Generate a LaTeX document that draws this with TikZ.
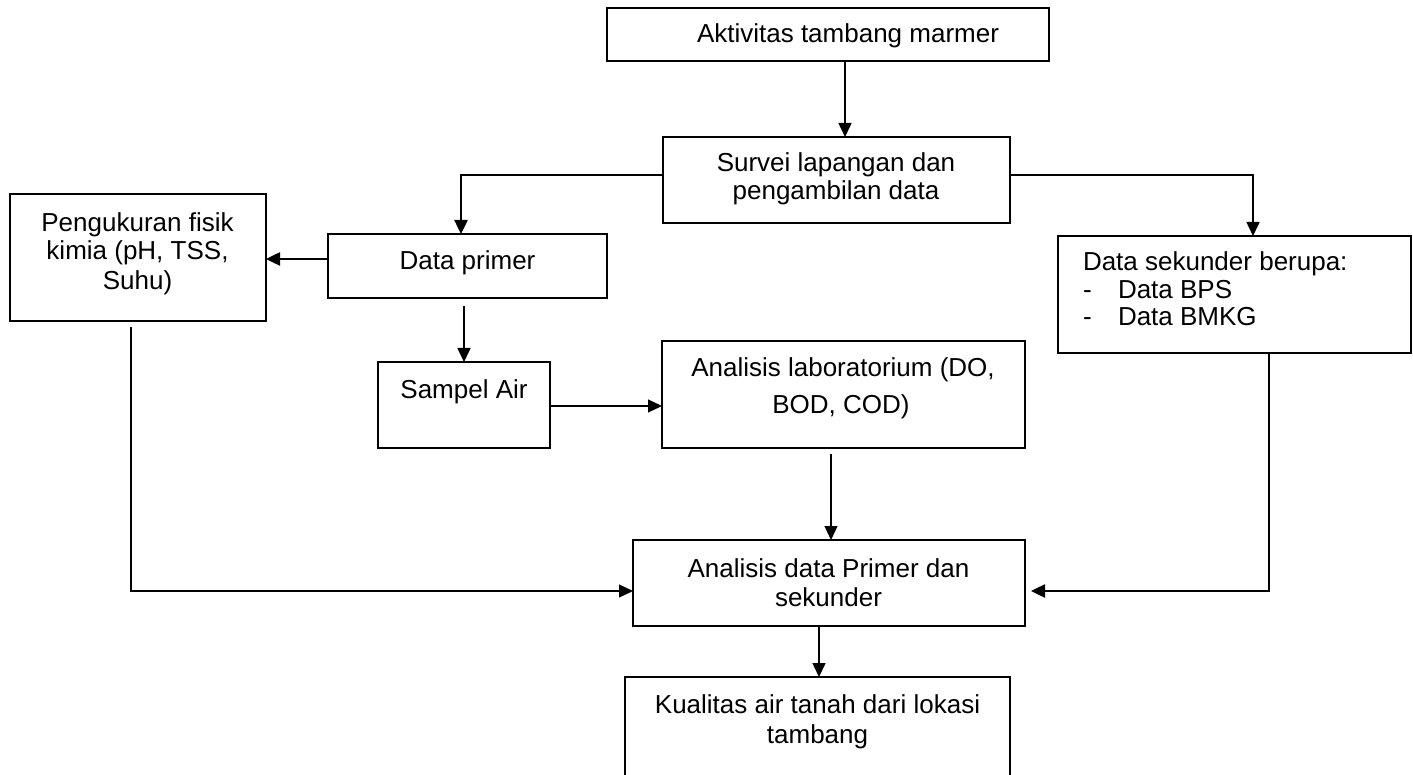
\documentclass[tikz,border=0pt]{standalone}
\usepackage{fontspec}
\setmainfont{Liberation Sans}
\usetikzlibrary{arrows.meta,calc}
\begin{document}
\begin{tikzpicture}[x=1pt,y=-1pt,
  box/.style={draw, line width=1.8pt, inner sep=0pt, outer sep=0pt},
  txt/.style={inner sep=0pt, outer sep=0pt, anchor=base, font=\fontsize{26}{30}\selectfont},
  txtl/.style={txt, anchor=base west},
  arr/.style={-{Triangle[length=14pt,width=13pt]}, line width=1.6pt},
  arrthick/.style={arr, line width=2.5pt},
  arrthin/.style={arr, line width=1.1pt}]
\useasboundingbox (0,0) rectangle (1413,775);
\clip (0,0) rectangle (1413,775);
\fill[white] (0,0) rectangle (1413,775);

% boxes
\node[box, minimum width=442pt, minimum height=53pt] (b1) at (828,34.5) {};
\node[box, minimum width=347pt, minimum height=86pt] (b2) at (836.5,180) {};
\node[box, minimum width=256pt, minimum height=127pt] (pk) at (138,257.5) {};
\node[box, minimum width=279pt, minimum height=64pt] (dp) at (467.5,266) {};
\node[box, minimum width=353pt, minimum height=117pt] (ds) at (1234.5,294.5) {};
\node[box, minimum width=172pt, minimum height=86pt] (sa) at (464,405) {};
\node[box, minimum width=363pt, minimum height=107pt] (lab) at (843.5,394.5) {};
\node[box, minimum width=392pt, minimum height=86pt] (ad) at (829,583) {};
\node[box, minimum width=385pt, minimum height=123pt] (kq) at (817.5,738.5) {};

% texts
\node[txt] (t1) at (848,43) {Aktivitas tambang marmer};
\node[txt] (t2a) at (836,172) {Survei lapangan dan};
\node[txt] (t2b) at (836,200) {pengambilan data};
\node[txt] (t3a) at (137.5,232) {Pengukuran fisik};
\node[txt] (t3b) at (137.5,260) {kimia (pH, TSS,};
\node[txt] (t3c) at (137.5,290) {Suhu)};
\node[txt] (t4) at (467.5,270) {Data primer};
\node[txtl] (t5a) at (1083,271) {Data sekunder berupa:};
\node[txtl] (t5b) at (1083,299) {-};
\node[txtl] (t5c) at (1118,299) {Data BPS};
\node[txtl] (t5d) at (1083,326) {-};
\node[txtl] (t5e) at (1118,326) {Data BMKG};
\node[txt] (t6) at (464,399) {Sampel Air};
\node[txt] (t7a) at (843,377) {Analisis laboratorium (DO,};
\node[txt] (t7b) at (841,413) {BOD, COD)};
\node[txt] (t8a) at (828.5,577) {Analisis data Primer dan};
\node[txt] (t8b) at (828.5,606) {sekunder};
\node[txt] (t9a) at (817.5,713) {Kualitas air tanah dari lokasi};
\node[txt] (t9b) at (817.5,743) {tambang};

% helper coordinates
\coordinate (c1) at (845,0);
\coordinate (k1) at (461,175);
\coordinate (k2) at (1253,175);
\coordinate (k3) at (0,259);
\coordinate (k4) at (831,0);
\coordinate (k5) at (131,591);
\coordinate (k6) at (1269,591);
\coordinate (k7) at (819,0);

% connectors
\draw[arr] (b1.south -| c1) -- (b2.north -| c1);
\draw[arrthick] (b2.west |- k1) -- (k1) -- (dp.north -| k1);
\draw[arr] (b2.east |- k2) -- (k2) -- (ds.north -| k2);
\draw[arrthick] (dp.west |- k3) -- (pk.east |- k3);
\draw[arr] ($(dp.south -| sa.north)+(0,8)$) -- (sa.north);
\draw[arrthin] ($(sa.east)+(0,1)$) -- ($(sa.east -| lab.west)+(0,1)$);
\draw[arrthin] ($(lab.south -| k4)+(0,6)$) -- (ad.north -| k4);
\draw[arrthin] ($(pk.south -| k5)+(0,6)$) -- (k5) -- (ad.west |- k5);
\draw[arrthick] (ds.south -| k6) -- (k6) -- ($(ad.east |- k6)+(6,0)$);
\draw[arr] (ad.south -| k7) -- (kq.north -| k7);
\end{tikzpicture}
\end{document}
